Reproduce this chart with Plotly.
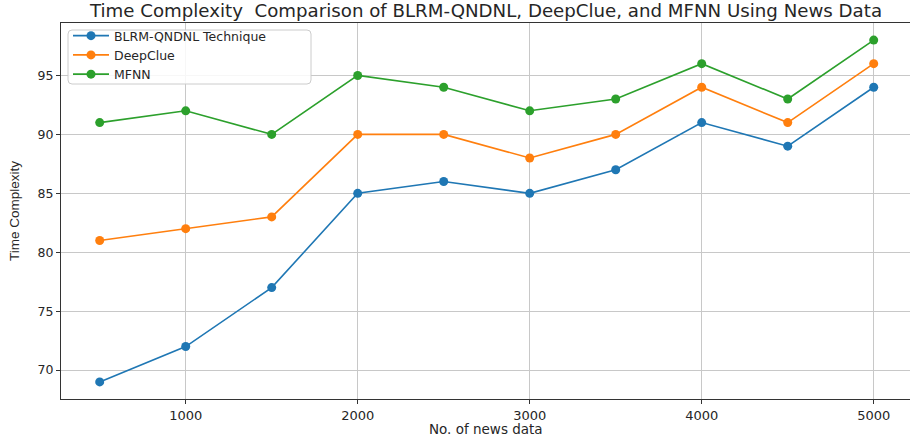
import plotly.graph_objects as go

x_vals = [500, 1000, 1500, 2000, 2500, 3000, 3500, 4000, 4500, 5000]
blrm = [69, 72, 77, 85, 86, 85, 87, 91, 89, 94]
deepclue = [81, 82, 83, 90, 90, 88, 90, 94, 91, 96]
mfnn = [91, 92, 90, 95, 94, 92, 93, 96, 93, 98]

series = [
    ("BLRM-QNDNL Technique", blrm, "#1f77b4"),
    ("DeepClue", deepclue, "#ff7f0e"),
    ("MFNN", mfnn, "#2ca02c"),
]

fig = go.Figure()
for name, vals, color in series:
    fig.add_trace(go.Scatter(
        x=x_vals, y=vals, name=name, mode="lines+markers",
        line=dict(color=color, width=1.6),
        marker=dict(color=color, size=9),
    ))

font = "DejaVu Sans, sans-serif"
L, R, T, B = 61, 0, 23, 40
W, H = 910, 439
pw, ph = W - L - R, H - T - B


def px_x(p):
    return (p - L) / pw


def px_y(p):
    return 1 - (p - T) / ph


# rounded legend frame (matplotlib fancybox look)
x0, x1, y0, y1, r = px_x(68), px_x(311), px_y(30), px_y(84), 4
rx, ry = r / pw, r / ph
frame = (f"M {x0+rx},{y0} L {x1-rx},{y0} Q {x1},{y0} {x1},{y0-ry} "
         f"L {x1},{y1+ry} Q {x1},{y1} {x1-rx},{y1} L {x0+rx},{y1} "
         f"Q {x0},{y1} {x0},{y1+ry} L {x0},{y0-ry} Q {x0},{y0} {x0+rx},{y0} Z")

fig.update_layout(
    width=W, height=H,
    margin=dict(l=L, r=R, t=T, b=B),
    paper_bgcolor="white", plot_bgcolor="white",
    title=dict(text="Time Complexity  Comparison of BLRM-QNDNL, DeepClue, and MFNN Using News Data",
               x=486 / W, xanchor="center", y=1 - 11 / H, yanchor="middle",
               font=dict(family=font, size=18.2, color="#262626")),
    showlegend=True,
    legend=dict(x=px_x(68), y=px_y(21), xanchor="left", yanchor="top",
                bgcolor="rgba(0,0,0,0)", borderwidth=0,
                font=dict(family=font, size=12.5, color="#262626"),
                itemwidth=36, tracegroupgap=0),
    shapes=[dict(type="path", path=frame, xref="paper", yref="paper",
                 fillcolor="rgba(255,255,255,0.85)", line=dict(color="#cccccc", width=1),
                 layer="above")],
    font=dict(family=font, color="#262626"),
    annotations=[
        dict(text="No. of news data", xref="paper", yref="paper",
             x=px_x(486), y=px_y(429), xanchor="center", yanchor="middle",
             showarrow=False, font=dict(family=font, size=13.5, color="#262626")),
        dict(text="Time Complexity", xref="paper", yref="paper", textangle=-90,
             x=px_x(14), y=0.5, xanchor="center", yanchor="middle",
             showarrow=False, font=dict(family="Liberation Sans Narrow, Liberation Sans, sans-serif", size=13.5, color="#262626")),
    ],
)
fig.update_xaxes(
    range=[275, 5211], tickvals=[1000, 2000, 3000, 4000, 5000], automargin=False,
    showgrid=True, gridcolor="#c8c8c8", gridwidth=1,
    showline=True, linecolor="#333333", linewidth=1.2, mirror=True,
    ticks="outside", ticklen=4, tickcolor="#333333",
    tickfont=dict(family=font, size=13, color="#262626"),
    zeroline=False,
)
fig.update_yaxes(
    range=[67.55, 99.45], tickvals=[70, 75, 80, 85, 90, 95], automargin=False,
    showgrid=True, gridcolor="#c8c8c8", gridwidth=1,
    showline=True, linecolor="#333333", linewidth=1.2, mirror=True,
    ticks="outside", ticklen=4, tickcolor="#333333",
    tickfont=dict(family=font, size=12.5, color="#262626"),
    zeroline=False,
)
fig.write_html("out.html", config={"displayModeBar": False},
               post_script="document.body.style.margin='0';document.body.style.overflow='hidden';")
